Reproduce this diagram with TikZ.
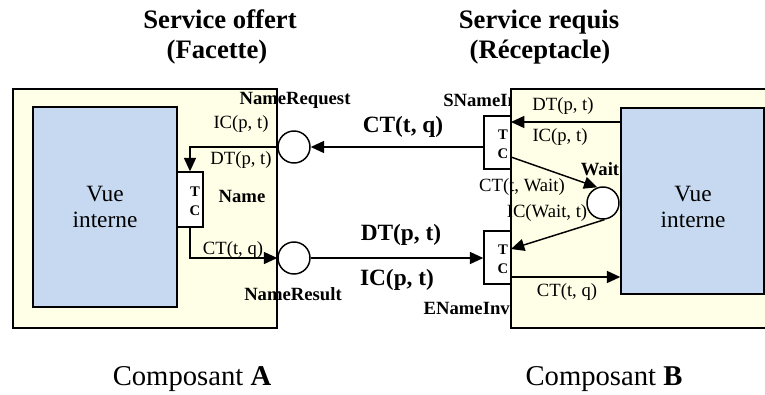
\documentclass[tikz,border=0pt]{standalone}
\usepackage{fontspec}
\setmainfont{Liberation Serif}
\usetikzlibrary{arrows.meta,fit}
\definecolor{compfill}{HTML}{FFFEE6}
\definecolor{viewfill}{HTML}{C6D9F1}

\begin{document}
\begin{tikzpicture}[x=0.75pt,y=-0.75pt,
  every node/.style={inner sep=0pt},
  comp/.style={draw,line width=1.1pt,fill=compfill},
  view/.style={draw,line width=1.1pt,fill=viewfill},
  tcbox/.style={draw,line width=1.1pt,fill=white},
  port/.style={circle,draw,line width=1.1pt,fill=white,minimum size=24pt},
  conn/.style={line width=1.1pt,-{Triangle[length=10pt,width=9pt]}},
  lbl/.style={font=\fontsize{14}{16}\selectfont},
  lblb/.style={font=\fontsize{14}{16}\selectfont\bfseries},
  biglbl/.style={font=\fontsize{17.5}{20}\selectfont\bfseries},
  tctext/.style={font=\fontsize{11}{14}\selectfont\bfseries,align=center},
  viewtext/.style={font=\fontsize{17.5}{19.5}\selectfont,align=center},
  title/.style={font=\fontsize{20}{22}\selectfont\bfseries,anchor=base},
  foot/.style={font=\fontsize{21.5}{24}\selectfont,anchor=base}]

\useasboundingbox (0,0) rectangle (765,394);
\clip (0,0) rectangle (765,394);

% headings
\node[title] (t1a) at (220,28) {Service offert};
\node[title] (t1b) at (217,58) {(Facette)};
\node[title] (t2a) at (539,28) {Service requis};
\node[title] (t2b) at (540,58) {(Réceptacle)};

% port label partly hidden by component B
\node[lblb,anchor=west] (snameinv) at (443,100) {SNameInv};

% component A
\node[comp,fit={(13,89) (277,328)}] (compA) {};
\node[view,fit={(33,107) (177,307)}] (viewA) {};
\node[viewtext] (vueA) at (105,207) {Vue\\interne};
\node[tcbox,fit={(177,172) (203,227)}] (tcA) {};
\node[tctext] (tcAt) at (195,201.5) {T\\C};

% component B
\node[comp,fit={(511,89) (790,328)}] (compB) {};
\node[view,fit={(621,108) (764,294)}] (viewB) {};
\node[viewtext] (vueB) at (693,207) {Vue\\interne};
\node[tcbox,fit={(484,116) (511,169)}] (tcB1) {};
\node[tctext] (tcB1t) at (503,144.5) {T\\C};
\node[tcbox,fit={(484,231) (511,284)}] (tcB2) {};
\node[tctext] (tcB2t) at (503,259.5) {T\\C};

% ports
\node[port] (req) at (294,147) {};
\node[port] (res) at (294,258) {};
\node[port] (wait) at (603,203) {};

% attachment points on the right-hand side of the B boxes
\coordinate (b1) at (511,122);
\coordinate (b2) at (511,157);
\coordinate (b3) at (511,249);
\coordinate (b4) at (511,277);

% connectors inside component A
\draw[conn] (req.west) -| (tcA.north);
\draw[conn] (tcA.south) |- (res.west);

% connectors between the components
\draw[conn] (tcB1.west |- req) -- (req.east);
\draw[conn] (res.east) -- (res.east -| tcB2.west);

% connectors inside component B
\draw[conn] (viewB.west |- b1) -- (b1);
\draw[conn] (b2) -- (wait.110);
\draw[conn] (wait.-85) -- (b3);
\draw[conn] (b4) -- (viewB.west |- b4);

% labels of component A
\node[lblb] (lreq) at (295,100) {NameRequest};
\node[lbl] (lic1) at (241,124) {IC(p, t)};
\node[lbl] (ldt1) at (241,160) {DT(p, t)};
\node[lblb] (lname) at (242,196) {Name};
\node[lbl] (lct1) at (233,250) {CT(t, q)};
\node[lblb] (lres) at (293,294) {NameResult};

% labels between the components
\node[biglbl] (lct) at (403,127) {CT(t, q)};
\node[biglbl] (ldt) at (401,235) {DT(p, t)};
\node[biglbl] (lic) at (397,280) {IC(p, t)};

% labels of component B
\node[lbl] (ldt2) at (563,106) {DT(p, t)};
\node[lbl] (lic2) at (560,137) {IC(p, t)};
\node[lblb] (lwait) at (600,169) {Wait};
\node[lbl] (lctw) at (522,187) {CT(t, Wait)};
\node[lbl] (licw) at (547,213) {IC(Wait, t)};
\node[lbl] (lct2) at (567,292) {CT(t, q)};
\node[lblb,anchor=east] (enameinv) at (510,308) {ENameInv};

% component captions
\node[foot] (capA) at (192,385) {Composant \textbf{A}};
\node[foot] (capB) at (604,385) {Composant \textbf{B}};
\end{tikzpicture}
\end{document}
